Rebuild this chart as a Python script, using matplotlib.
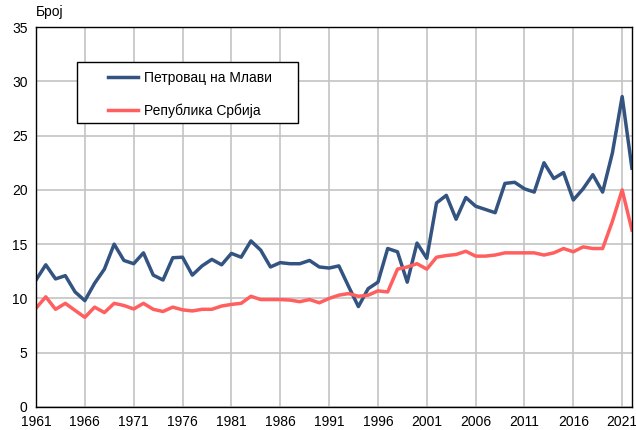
import matplotlib
matplotlib.use('Agg')
import matplotlib.pyplot as plt
from matplotlib.patches import Rectangle

plt.rcParams['font.family'] = ['Liberation Sans', 'DejaVu Sans']
plt.rcParams['font.size'] = 10

years = list(range(1961, 2023))

# Петровац на Млави
petrovac = [
    11.7, 13.1, 11.8, 12.1, 10.6, 9.8, 11.4, 12.7, 15.0, 13.5,
    13.2, 14.2, 12.15, 11.7, 13.75, 13.8, 12.15, 13.0, 13.6, 13.1,
    14.15, 13.8, 15.3, 14.45, 12.9, 13.3, 13.2, 13.2, 13.5, 12.9,
    12.8, 13.0, 11.1, 9.25, 10.9, 11.5, 14.6, 14.3, 11.5, 15.1,
    13.7, 18.8, 19.5, 17.3, 19.3, 18.5, 18.2, 17.9, 20.6, 20.7,
    20.1, 19.8, 22.5, 21.05, 21.6, 19.07, 20.1, 21.4, 19.8, 23.4,
    28.6, 22.0,
]

# Република Србија
srbija = [
    9.1, 10.15, 9.0, 9.55, 8.9, 8.26, 9.2, 8.7, 9.55, 9.35,
    9.03, 9.55, 9.0, 8.8, 9.2, 8.95, 8.85, 9.0, 9.0, 9.3,
    9.45, 9.55, 10.2, 9.9, 9.9, 9.9, 9.85, 9.7, 9.9, 9.6,
    10.0, 10.3, 10.45, 10.2, 10.3, 10.7, 10.6, 12.7, 12.9, 13.2,
    12.7, 13.8, 13.95, 14.05, 14.35, 13.9, 13.9, 14.0, 14.2, 14.2,
    14.2, 14.2, 14.0, 14.2, 14.6, 14.3, 14.75, 14.6, 14.6, 17.1,
    20.0, 16.3,
]

xticks = list(range(1961, 2022, 5))
yticks = list(range(0, 36, 5))

fig = plt.figure(figsize=(6.36, 4.30), dpi=100)
ax = fig.add_axes([0.0566, 0.0535, 0.937, 0.8835])

ax.plot(years, petrovac, color='#335381', lw=2.5, label='Петровац на Млави')
ax.plot(years, srbija, color='#ff5f5f', lw=2.5, label='Република Србија')

ax.set_xlim(1961, 2022)
ax.set_ylim(0, 35)
ax.set_xticks(xticks)
ax.set_yticks(yticks)
ax.tick_params(length=0, pad=6, labelsize=10)
ax.grid(True, color='#c4c4c4', lw=1.2)
ax.set_axisbelow(True)
for s in ax.spines.values():
    s.set_color('black')
    s.set_linewidth(1.0)

fig.text(0.0566, 0.955, 'Број', ha='left', va='bottom', fontsize=10)

# legend box drawn separately so padding matches the original
ax.add_patch(Rectangle((0.0688, 0.7474), 0.3708, 0.1605, transform=ax.transAxes,
                       facecolor='white', edgecolor='black', lw=1.0, zorder=4))
leg = ax.legend(loc='upper left', bbox_to_anchor=(0.1208, 0.885), frameon=False,
                fontsize=10, handlelength=2.15, labelspacing=1.32, borderpad=0,
                borderaxespad=0, handletextpad=0.45)
leg.set_zorder(5)

fig.savefig('out.png', dpi=100)
